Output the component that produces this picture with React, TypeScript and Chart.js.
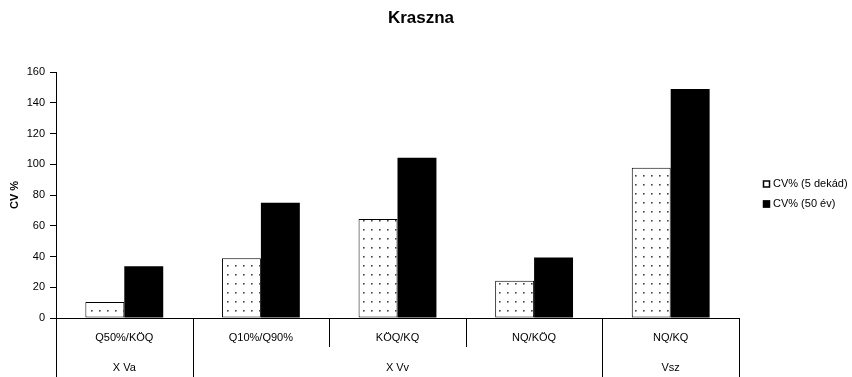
import React, { useEffect, useRef } from "react";
import { Chart, registerables } from "chart.js";

Chart.register(...registerables);

const titleText = "Kraszna";
const yAxisTitle = "CV %";
const categories = ["Q50%/KÖQ", "Q10%/Q90%", "KÖQ/KQ", "NQ/KÖQ", "NQ/KQ"];
const groupLabels = ["X Va", "X Vv", "Vsz"];
const groupSpans = [1, 3, 1];
const seriesNames = ["CV% (5 dekád)", "CV% (50 év)"];
const cv5dekad = [10.4, 38.8, 64.4, 24.2, 97.8];
const cv50ev = [33.7, 75.0, 104.2, 39.4, 148.9];
const yMin = 0;
const yMax = 160;
const yStep = 20;

const FONT = "'Liberation Sans', Arial, sans-serif";

function makeDotPattern(): CanvasPattern | string {
  const c = document.createElement("canvas");
  c.width = 8;
  c.height = 9;
  const g = c.getContext("2d");
  if (!g) return "#fff";
  g.fillStyle = "#fff";
  g.fillRect(0, 0, 8, 9);
  g.fillStyle = "#444";
  g.fillRect(3, 4, 1.6, 1.6);
  const p = g.createPattern(c, "repeat");
  return p || "#fff";
}

const overlayPlugin = {
  id: "overlay",
  afterDraw(chart: any) {
    const ctx = chart.ctx as CanvasRenderingContext2D;
    const area = chart.chartArea;
    const n = categories.length;
    const w = (area.right - area.left) / n;
    const bottom = area.bottom;
    const H = chart.height;
    ctx.save();
    // title
    ctx.fillStyle = "#000";
    ctx.font = `bold 17px ${FONT}`;
    ctx.textAlign = "center";
    ctx.textBaseline = "middle";
    ctx.fillText(titleText, 421, 18);

    // x axis boundaries
    const groupBounds = new Set<number>();
    let acc = 0;
    groupBounds.add(0);
    for (const s of groupSpans) {
      acc += s;
      groupBounds.add(acc);
    }
    ctx.strokeStyle = "#000";
    ctx.lineWidth = 1;
    for (let i = 0; i <= n; i++) {
      const x = Math.round(area.left + i * w) + 0.5;
      const yEnd = groupBounds.has(i) ? H : bottom + 29;
      ctx.beginPath();
      ctx.moveTo(x, bottom);
      ctx.lineTo(x, yEnd);
      ctx.stroke();
    }
    // category labels
    ctx.font = `11px ${FONT}`;
    for (let i = 0; i < n; i++) {
      const x = chart.scales.x.getPixelForValue(i);
      ctx.fillText(categories[i], x, bottom + 20);
    }
    // group labels
    acc = 0;
    groupLabels.forEach((g, gi) => {
      const start = area.left + acc * w;
      acc += groupSpans[gi];
      const end = area.left + acc * w;
      ctx.fillText(g, (start + end) / 2, bottom + 50);
    });

    // legend
    ctx.textAlign = "left";
    ctx.font = `11px ${FONT}`;
    const rows = [184, 204];
    seriesNames.forEach((name, i) => {
      const y = rows[i];
      ctx.fillStyle = i === 0 ? "#fff" : "#000";
      ctx.fillRect(763, y - 3.5, 7, 7);
      ctx.strokeStyle = "#000";
      ctx.lineWidth = 1.5;
      ctx.strokeRect(763.5, y - 3, 6, 6);
      ctx.fillStyle = "#000";
      ctx.fillText(name, 773, y);
    });
    ctx.restore();
  },
};

export default function App() {
  const ref = useRef<HTMLCanvasElement | null>(null);
  useEffect(() => {
    if (!ref.current) return;
    const pattern = makeDotPattern();
    const chart = new Chart(ref.current, {
      type: "bar",
      data: {
        labels: categories,
        datasets: [
          {
            label: seriesNames[0],
            data: cv5dekad,
            backgroundColor: pattern as any,
            borderColor: "#000",
            borderWidth: 1,
            borderSkipped: false,
          },
          {
            label: seriesNames[1],
            data: cv50ev,
            backgroundColor: "#000",
            borderColor: "#000",
            borderWidth: 0,
          },
        ],
      },
      plugins: [overlayPlugin],
      options: {
        animation: false,
        responsive: true,
        maintainAspectRatio: false,
        datasets: { bar: { barPercentage: 1, categoryPercentage: 0.57 } },
        layout: { padding: { top: 72, right: 113, bottom: 0, left: 0 } },
        plugins: {
          legend: { display: false },
          title: { display: false },
          tooltip: { enabled: false },
        },
        scales: {
          x: {
            ticks: { display: false },
            grid: { display: false },
            border: { display: true, color: "#000", width: 1 },
            afterFit: (scale: any) => {
              scale.height = 59;
            },
          },
          y: {
            min: yMin,
            max: yMax,
            ticks: {
              stepSize: yStep,
              color: "#000",
              font: { family: FONT, size: 11 },
              padding: 5,
            },
            grid: {
              drawOnChartArea: false,
              drawTicks: true,
              tickLength: 6,
              color: "#000",
            },
            border: { display: true, color: "#000", width: 1 },
            title: {
              display: true,
              text: yAxisTitle,
              color: "#000",
              font: { family: FONT, size: 11, weight: "bold" },
              padding: { top: 8, bottom: 0 },
            },
            afterFit: (scale: any) => {
              scale.width = 56;
            },
          },
        },
      },
    });
    return () => chart.destroy();
  }, []);
  return (
    <div style={{ position: "fixed", left: 0, top: 0, width: 852, height: 377, background: "#fff" }}>
      <canvas ref={ref} />
    </div>
  );
}
